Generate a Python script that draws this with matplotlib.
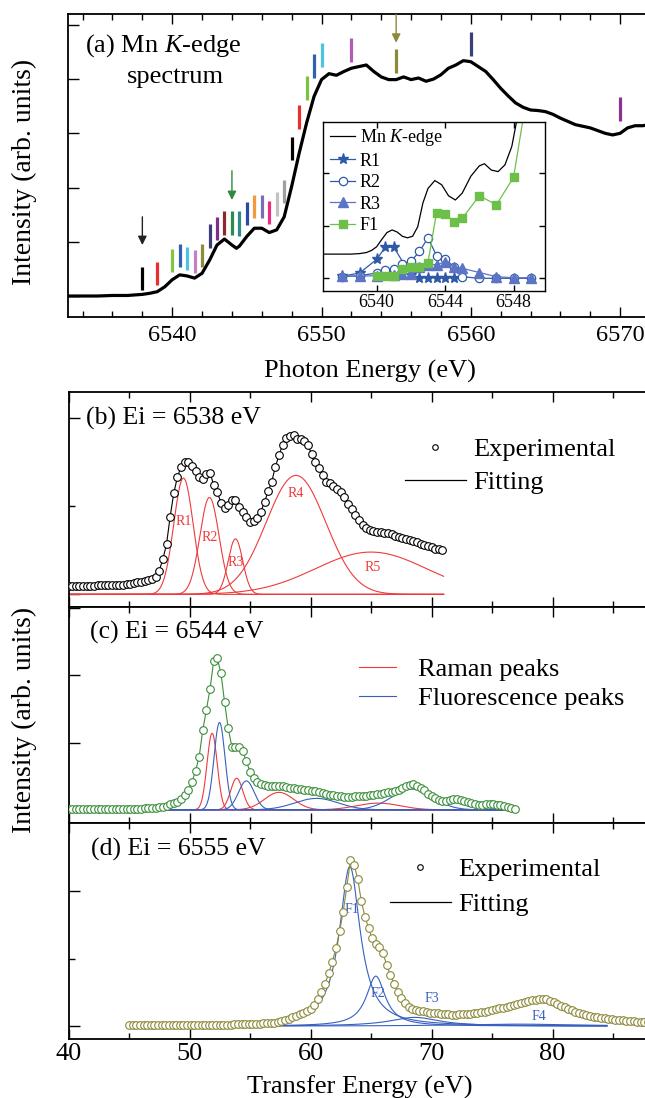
import numpy as np
import matplotlib
matplotlib.use('Agg')
import matplotlib.pyplot as plt
from matplotlib.lines import Line2D
from matplotlib.ticker import MultipleLocator, FixedLocator, NullFormatter

plt.rcParams['font.family'] = ['Liberation Serif', 'DejaVu Serif']
plt.rcParams['mathtext.fontset'] = 'custom'
plt.rcParams['mathtext.rm'] = 'Liberation Serif'
plt.rcParams['mathtext.it'] = 'Liberation Serif:italic'

# ---- (a) Mn K-edge XAS ----
edge_e = [6533, 6534, 6535, 6536, 6537, 6538, 6538.5, 6539, 6539.5, 6540, 6540.5, 6541,
          6541.5, 6542, 6542.5, 6543, 6543.5, 6544, 6544.3, 6544.5, 6545, 6545.5, 6546,
          6546.5, 6547, 6547.5, 6548, 6548.5, 6549, 6549.5, 6550, 6550.5, 6551, 6551.5,
          6552, 6552.5, 6553, 6553.5, 6554, 6554.5, 6555, 6555.5, 6556, 6556.5, 6557,
          6557.5, 6558, 6558.5, 6559, 6559.5, 6560, 6560.5, 6561, 6561.5, 6562, 6562.5,
          6563, 6563.5, 6564, 6564.5, 6565, 6565.5, 6566, 6566.5, 6567, 6567.5, 6568,
          6568.5, 6569, 6569.5, 6570, 6570.5, 6571, 6571.5, 6572, 6573, 6574, 6575]
edge_i = [0.0, 0.0, 0.0, 0.01, 0.01, 0.03, 0.05, 0.08, 0.17, 0.30, 0.39, 0.37,
          0.33, 0.42, 0.66, 0.94, 1.05, 0.94, 0.88, 0.92, 1.10, 1.25, 1.25,
          1.17, 1.22, 1.46, 2.02, 2.63, 3.19, 3.68, 3.99, 4.10, 4.07, 4.14,
          4.20, 4.23, 4.26, 4.14, 4.04, 3.99, 3.99, 4.04, 3.99, 4.02, 3.96,
          4.00, 4.08, 4.20, 4.26, 4.34, 4.32, 4.23, 4.14, 3.99, 3.83, 3.69,
          3.56, 3.48, 3.43, 3.42, 3.40, 3.35, 3.28, 3.22, 3.16, 3.13, 3.10,
          3.05, 3.00, 2.97, 3.00, 3.10, 3.14, 3.14, 3.16, 3.18, 3.20, 3.20]

bar_e = [6538, 6539, 6540, 6540.5, 6541, 6541.5, 6542, 6542.5, 6543, 6543.5, 6544, 6544.5,
         6545, 6545.5, 6546, 6546.5, 6547, 6547.5, 6548, 6548.5, 6549, 6549.5, 6550,
         6552, 6555, 6560, 6570]
bar_lo = [0.11, 0.20, 0.44, 0.53, 0.48, 0.43, 0.53, 0.89, 1.03, 1.13, 1.13, 1.11,
          1.31, 1.44, 1.44, 1.33, 1.48, 1.71, 2.51, 3.08, 3.62, 4.02, 4.22,
          4.32, 4.12, 4.42, 3.23]
bar_hi = [0.53, 0.63, 0.87, 0.96, 0.90, 0.85, 0.96, 1.33, 1.46, 1.56, 1.56, 1.56,
          1.74, 1.86, 1.87, 1.76, 1.91, 2.14, 2.94, 3.52, 4.06, 4.46, 4.66,
          4.75, 4.55, 4.86, 3.67]
bar_colors = ['black', '#e8302e', '#86c440', '#2f62b0', '#4cc4de', '#c57fc4', '#8e8c3c',
              '#3c3d78', '#7c2e8c', '#8a2b2e', '#2e8b4e', '#2d8c8a', '#2b4aa5', '#f49a3c',
              '#7c6cb6', '#ec2c7c', '#c3c3c3', '#a0a0a0', 'black', '#e8302e', '#7cc242',
              '#2f62b0', '#4cc4de', '#b15db7', '#8a8a3a', '#3a3e7c', '#8c3392']

arrow_e = [6538, 6544, 6555]
arrow_top = [1.46, 2.31, 5.19]
arrow_tip = [0.94, 1.77, 4.67]
arrow_colors = ['#222222', '#2e8b3e', '#8b8a3a']

# inset
in_edge_e = [6536.8, 6537.5, 6538.5, 6539.0, 6539.4, 6539.7, 6540.0, 6540.3, 6540.6, 6540.9,
             6541.2, 6541.5, 6541.8, 6542.1, 6542.4, 6542.7, 6543.0, 6543.4, 6543.8, 6544.2,
             6544.6, 6545.0, 6545.5, 6546.0, 6546.3, 6546.7, 6547.1, 6547.5, 6547.9, 6548.2,
             6548.4]
in_edge_i = [0.46, 0.46, 0.46, 0.47, 0.49, 0.53, 0.60, 0.74, 0.87, 0.92,
             0.88, 0.80, 0.77, 0.80, 0.98, 1.43, 1.71, 1.86, 1.78, 1.57,
             1.49, 1.62, 1.94, 2.14, 2.18, 2.06, 2.03, 2.16, 2.51, 3.02,
             3.40]
r1_e = [6538, 6539, 6540, 6540.5, 6541, 6542, 6542.5, 6543, 6543.5, 6544, 6544.5]
r1_i = [0.04, 0.10, 0.36, 0.59, 0.59, 0.06, 0.01, 0.01, 0.01, 0.01, 0.01]
r2_e = [6538, 6539, 6540, 6540.5, 6541, 6541.5, 6542, 6542.5, 6543, 6543.5, 6544, 6544.5,
        6545, 6546, 6547, 6548, 6549]
r2_i = [0.03, 0.05, 0.10, 0.15, 0.17, 0.27, 0.32, 0.51, 0.77, 0.43, 0.37, 0.22,
        0.03, 0.0, 0.0, 0.0, 0.0]
r3_e = [6538, 6539, 6540, 6541, 6541.5, 6542, 6542.5, 6543, 6543.5, 6544, 6544.5, 6545,
        6546, 6547, 6548, 6549]
r3_i = [0.04, 0.04, 0.05, 0.06, 0.08, 0.09, 0.21, 0.26, 0.26, 0.31, 0.22, 0.19,
        0.11, 0.03, 0.01, 0.01]
f1_e = [6540, 6540.5, 6541, 6541.5, 6542, 6542.5, 6543, 6543.5, 6544, 6544.5, 6545,
        6546, 6547, 6548, 6549]
f1_i = [0.05, 0.05, 0.05, 0.18, 0.22, 0.22, 0.30, 1.25, 1.23, 1.07, 1.14,
        1.57, 1.40, 1.92, 3.90]

# ---- (b) Ei = 6538 eV, step 0.3 eV from 40 eV ----
int_b = [0.100, 0.100, 0.100, 0.100, 0.100, 0.100, 0.100, 0.100, 0.102, 0.104,
         0.105, 0.106, 0.107, 0.108, 0.109, 0.110, 0.115, 0.122, 0.130, 0.137,
         0.143, 0.152, 0.160, 0.170, 0.20, 0.27, 0.40, 0.57, 0.88, 1.15,
         1.33, 1.45, 1.50, 1.50, 1.46, 1.40, 1.33, 1.31, 1.37, 1.38,
         1.24, 1.16, 1.04, 0.98, 1.01, 1.07, 1.07, 0.99, 0.94, 0.88,
         0.82, 0.83, 0.87, 0.94, 1.05, 1.17, 1.28, 1.45, 1.58, 1.70,
         1.77, 1.80, 1.81, 1.76, 1.76, 1.74, 1.69, 1.59, 1.50, 1.43,
         1.36, 1.28, 1.26, 1.23, 1.20, 1.16, 1.11, 1.03, 0.97, 0.90,
         0.84, 0.79, 0.75, 0.73, 0.72, 0.71, 0.705, 0.70, 0.695, 0.68,
         0.665, 0.65, 0.64, 0.63, 0.615, 0.60, 0.59, 0.575, 0.56, 0.55,
         0.535, 0.52, 0.51, 0.50]
b_names = ['R1', 'R2', 'R3', 'R4', 'R5']
b_cen = [49.5, 51.65, 53.8, 58.8, 65.0]
b_amp = [1.32, 1.10, 0.63, 1.35, 0.48]
b_wid = [0.80, 0.79, 0.60, 2.46, 4.6]
b_lab_x = [49.5, 51.7, 53.8, 58.8, 65.1]
b_lab_y = [0.83, 0.65, 0.36, 1.15, 0.31]

# ---- (c) Ei = 6544 eV, step 0.3 eV from 40 eV ----
int_c = [0.010, 0.010, 0.010, 0.010, 0.010, 0.010, 0.010, 0.010, 0.010, 0.010,
         0.012, 0.013, 0.014, 0.015, 0.016, 0.017, 0.018, 0.020, 0.020, 0.020,
         0.020, 0.021, 0.023, 0.025, 0.030, 0.038, 0.045, 0.058, 0.080, 0.10,
         0.12, 0.16, 0.22, 0.30, 0.41, 0.58, 0.79, 1.19, 1.49, 1.80,
         2.22, 2.25, 2.03, 1.60, 1.21, 0.94, 0.94, 0.94, 0.87, 0.72,
         0.57, 0.48, 0.41, 0.38, 0.37, 0.36, 0.355, 0.35, 0.355, 0.355,
         0.34, 0.33, 0.32, 0.31, 0.305, 0.30, 0.295, 0.285, 0.275, 0.26,
         0.25, 0.24, 0.225, 0.215, 0.205, 0.20, 0.195, 0.19, 0.195, 0.20,
         0.20, 0.205, 0.21, 0.22, 0.225, 0.23, 0.24, 0.25, 0.26, 0.27,
         0.28, 0.30, 0.33, 0.35, 0.37, 0.38, 0.36, 0.33, 0.29, 0.24,
         0.20, 0.17, 0.14, 0.125, 0.13, 0.15, 0.16, 0.155, 0.14, 0.125,
         0.11, 0.10, 0.09, 0.075, 0.07, 0.08, 0.09, 0.085, 0.075, 0.068,
         0.06, 0.045, 0.025, 0.01]
raman_cen = [51.87, 53.9, 57.4, 65.6]
raman_amp = [1.14, 0.47, 0.26, 0.10]
raman_wid = [0.42, 0.50, 1.2, 1.8]
fluo_cen = [52.48, 54.7, 60.5, 68.4]
fluo_amp = [1.30, 0.43, 0.17, 0.31]
fluo_wid = [0.45, 0.65, 1.8, 1.7]

# ---- (d) Ei = 6555 eV, step 0.3 eV from 45 eV ----
int_d = [0.015, 0.015, 0.015, 0.015, 0.015, 0.015, 0.015, 0.015, 0.015, 0.015,
         0.015, 0.015, 0.015, 0.015, 0.015, 0.015, 0.017, 0.018, 0.018, 0.019,
         0.020, 0.020, 0.020, 0.021, 0.021, 0.022, 0.022, 0.023, 0.024, 0.025,
         0.026, 0.027, 0.029, 0.030, 0.032, 0.035, 0.038, 0.040, 0.043, 0.048,
         0.054, 0.062, 0.075, 0.093, 0.11, 0.13, 0.155, 0.178, 0.20, 0.23,
         0.26, 0.32, 0.40, 0.51, 0.63, 0.78, 0.95, 1.15, 1.40, 1.69,
         2.06, 2.45, 2.39, 2.18, 1.85, 1.62, 1.45, 1.30, 1.22, 1.17,
         1.08, 0.90, 0.76, 0.63, 0.51, 0.41, 0.34, 0.29, 0.26, 0.245,
         0.23, 0.22, 0.21, 0.20, 0.20, 0.19, 0.185, 0.18, 0.175, 0.17,
         0.17, 0.175, 0.18, 0.18, 0.185, 0.19, 0.195, 0.205, 0.215, 0.23,
         0.24, 0.25, 0.265, 0.275, 0.29, 0.30, 0.31, 0.325, 0.34, 0.355,
         0.37, 0.38, 0.39, 0.40, 0.405, 0.395, 0.375, 0.35, 0.325, 0.30,
         0.28, 0.255, 0.235, 0.215, 0.20, 0.18, 0.165, 0.15, 0.14, 0.13,
         0.12, 0.115, 0.11, 0.10, 0.095, 0.09, 0.085, 0.08, 0.075, 0.072,
         0.068, 0.065, 0.063, 0.06]
d_names = ['F1', 'F2', 'F3', 'F4']
d_cen = [63.25, 65.4, 68.6, 77.0]
d_amp = [2.36, 0.74, 0.13, 0.03]
d_hwhm = [1.05, 0.95, 2.5, 6.0]
d_lab_x = [63.4, 65.6, 70.0, 78.9]
d_lab_y = [1.73, 0.48, 0.41, 0.15]

e_b = 40.0 + 0.3 * np.arange(len(int_b))
e_c = 40.0 + 0.3 * np.arange(len(int_c))
e_d = 45.0 + 0.3 * np.arange(len(int_d))

RED = '#ee3a3c'
BLUE = '#3760c0'
GREEN = '#3a8f3a'
OLIVE = '#8c8a3a'


def gauss(x, c, a, w):
    return a * np.exp(-(x - c) ** 2 / (2 * w ** 2))


def lorentz(x, c, a, g):
    return a / (1 + ((x - c) / g) ** 2)


W, H = 645, 1098
fig = plt.figure(figsize=(W / 100, H / 100), dpi=100)


def panel(x0, y0, x1, y1):
    return fig.add_axes([x0 / W, 1 - y1 / H, (x1 - x0) / W, (y1 - y0) / H])


def style(ax, lw=1.3):
    for s in ax.spines.values():
        s.set_linewidth(lw)
    ax.tick_params(which='both', direction='in', top=True, right=True, width=1.0)


# ---------------- panel (a) ----------------
ax_a = panel(67.7, 14, 700, 317)
ax_a.plot(edge_e, edge_i, color='k', lw=2.3, zorder=3)
ax_a.vlines(bar_e, bar_lo, bar_hi, colors=bar_colors, lw=2.3, zorder=4)
for e, t0, t1, c in zip(arrow_e, arrow_top, arrow_tip, arrow_colors):
    ax_a.annotate('', xy=(e, t1), xytext=(e, t0),
                  arrowprops=dict(arrowstyle='-|>', color=c, lw=1.0, mutation_scale=13,
                                  shrinkA=0, shrinkB=0))
ax_a.set_xlim(6533, 6533 + (700 - 67.7) / 14.93)
ax_a.set_ylim(-0.387, 5.20)
style(ax_a)
ax_a.xaxis.set_major_locator(FixedLocator([6540, 6550, 6560, 6570]))
ax_a.xaxis.set_minor_locator(MultipleLocator(2))
ax_a.yaxis.set_major_locator(MultipleLocator(1))
ax_a.yaxis.set_major_formatter(NullFormatter())
ax_a.tick_params(axis='x', which='major', length=7, labelsize=17.5, pad=6)
ax_a.tick_params(axis='x', which='minor', length=4)
ax_a.tick_params(axis='y', which='major', length=8)

fig.text(85 / W, 1 - 46 / H, '(a) Mn $K$-edge', fontsize=19, va='center', ha='left')
fig.text(175 / W, 1 - 77 / H, 'spectrum', fontsize=19, va='center', ha='center')

# inset
ax_in = panel(323.3, 121.7, 545, 291)
l0, = ax_in.plot(in_edge_e, in_edge_i, color='k', lw=0.9)
l1, = ax_in.plot(r1_e, r1_i, '-*', color='#2f5aa8', ms=8, lw=0.9)
l2, = ax_in.plot(r2_e, r2_i, '-o', color='#2f5aa8', mfc='white', ms=6, mew=0.9, lw=0.9)
l3, = ax_in.plot(r3_e, r3_i, '-^', color='#5b74c4', ms=7, lw=0.9)
l4, = ax_in.plot(f1_e, f1_i, '-s', color='#6cc04a', ms=5.5, lw=0.9)
ax_in.set_xlim(6536.88, 6549.84)
ax_in.set_ylim(-0.242, 2.98)
style(ax_in, lw=1.0)
ax_in.xaxis.set_major_locator(FixedLocator([6540, 6544, 6548]))
ax_in.yaxis.set_major_locator(MultipleLocator(1))
ax_in.yaxis.set_major_formatter(NullFormatter())
ax_in.tick_params(axis='both', which='major', length=4, labelsize=13, pad=2)
ax_in.legend([l0, l1, l2, l3, l4], ['Mn $K$-edge', 'R1', 'R2', 'R3', 'F1'],
             loc='upper left', bbox_to_anchor=(330 / W, 1 - 127 / H),
             bbox_transform=fig.transFigure, frameon=False, fontsize=13,
             borderpad=0, borderaxespad=0, labelspacing=0.25, handlelength=1.4,
             handletextpad=0.25)

fig.text(24 / W, 1 - 172 / H, 'Intensity (arb. units)', fontsize=20, rotation=90,
         va='center', ha='center')
fig.text(370 / W, 1 - 371 / H, 'Photon Energy (eV)', fontsize=19, va='center', ha='center')

# ---------------- panels (b)-(d) ----------------
xr = 40 + (700 - 68.5) / 12.1
ax_b = panel(68.5, 391.7, 700, 606.7)
ax_c = panel(68.5, 606.7, 700, 823.3)
ax_d = panel(68.5, 823.3, 700, 1039)

h_exp = Line2D([], [], ls='none', marker='o', mfc='white', mec='k', ms=4, mew=0.8)
h_fit = Line2D([], [], color='k', lw=0.9)

# (b)
xb = np.linspace(40, 71, 500)
for c, a, w in zip(b_cen, b_amp, b_wid):
    ax_b.plot(xb, gauss(xb, c, a, w), color=RED, lw=0.8, zorder=2)
for n, x, y in zip(b_names, b_lab_x, b_lab_y):
    ax_b.text(x, y, n, color=RED, fontsize=10, ha='center', va='center')
ax_b.plot(e_b, int_b, '-o', color='k', mfc='white', mec='k', ms=5.5, mew=0.8, lw=0.8, zorder=3)
ax_b.set_ylim(-0.14, 2.30)
ax_b.yaxis.set_major_locator(FixedLocator([0, 2]))
ax_b.yaxis.set_minor_locator(FixedLocator([1]))
ax_b.legend([h_exp, h_fit], ['Experimental', 'Fitting'], loc='upper left',
            bbox_to_anchor=(405 / W, 1 - 438 / H), bbox_transform=fig.transFigure,
            frameon=False, fontsize=19, borderpad=0, borderaxespad=0,
            labelspacing=0.35, handlelength=2.3, handletextpad=0.3)
fig.text(86 / W, 1 - 418 / H, '(b) Ei = 6538 eV', fontsize=18.5, va='center', ha='left')

# (c)
xc = np.linspace(40, 76, 600)
for c, a, w in zip(raman_cen, raman_amp, raman_wid):
    ax_c.plot(xc, gauss(xc, c, a, w), color=RED, lw=0.8, zorder=2)
for c, a, w in zip(fluo_cen, fluo_amp, fluo_wid):
    ax_c.plot(xc, gauss(xc, c, a, w), color=BLUE, lw=0.8, zorder=2)
ax_c.plot(e_c, int_c, '-o', color=GREEN, mfc='white', mec=GREEN, ms=5.5, mew=0.8, lw=0.8, zorder=3)
ax_c.set_ylim(-0.2, 3.02)
ax_c.yaxis.set_major_locator(MultipleLocator(1))
ax_c.legend([Line2D([], [], color=RED, lw=0.8), Line2D([], [], color=BLUE, lw=0.8)],
            ['Raman peaks', 'Fluorescence peaks'], loc='upper left',
            bbox_to_anchor=(359 / W, 1 - 658 / H), bbox_transform=fig.transFigure,
            frameon=False, fontsize=19, borderpad=0, borderaxespad=0,
            labelspacing=0.19, handlelength=1.4, handletextpad=0.85)
fig.text(90 / W, 1 - 632 / H, '(c) Ei = 6544 eV', fontsize=18.5, va='center', ha='left')

# (d)
xd = np.linspace(56, 84.5, 600)
for c, a, g in zip(d_cen, d_amp, d_hwhm):
    ax_d.plot(xd, lorentz(xd, c, a, g), color=BLUE, lw=0.8, zorder=2)
for n, x, y in zip(d_names, d_lab_x, d_lab_y):
    ax_d.text(x, y, n, color=BLUE, fontsize=10, ha='center', va='center')
ax_d.plot(e_d, int_d, '-o', color=OLIVE, mfc='white', mec=OLIVE, ms=5.5, mew=0.8, lw=0.8, zorder=3)
ax_d.set_ylim(-0.19, 3.0)
ax_d.yaxis.set_major_locator(FixedLocator([0, 2]))
ax_d.yaxis.set_minor_locator(FixedLocator([1]))
ax_d.legend([h_exp, h_fit], ['Experimental', 'Fitting'], loc='upper left',
            bbox_to_anchor=(390 / W, 1 - 858 / H), bbox_transform=fig.transFigure,
            frameon=False, fontsize=19, borderpad=0, borderaxespad=0,
            labelspacing=0.41, handlelength=2.3, handletextpad=0.3)
fig.text(91 / W, 1 - 849 / H, '(d) Ei = 6555 eV', fontsize=18.5, va='center', ha='left')

for ax in (ax_b, ax_c, ax_d):
    ax.set_xlim(40, xr)
    style(ax)
    ax.xaxis.set_major_locator(FixedLocator([40, 50, 60, 70, 80]))
    ax.xaxis.set_minor_locator(MultipleLocator(5))
    ax.yaxis.set_major_formatter(NullFormatter())
    ax.tick_params(axis='x', which='major', length=7, labelsize=19, pad=3)
    ax.tick_params(axis='x', which='minor', length=4)
    ax.tick_params(axis='y', which='major', length=8)
    ax.tick_params(axis='y', which='minor', length=4)
for ax in (ax_b, ax_c):
    ax.tick_params(axis='x', labelbottom=False)

fig.text(24 / W, 1 - 720 / H, 'Intensity (arb. units)', fontsize=20, rotation=90,
         va='center', ha='center')
fig.text(360 / W, 1 - 1087 / H, 'Transfer Energy (eV)', fontsize=19, va='center', ha='center')

fig.savefig('out.png', dpi=100)
